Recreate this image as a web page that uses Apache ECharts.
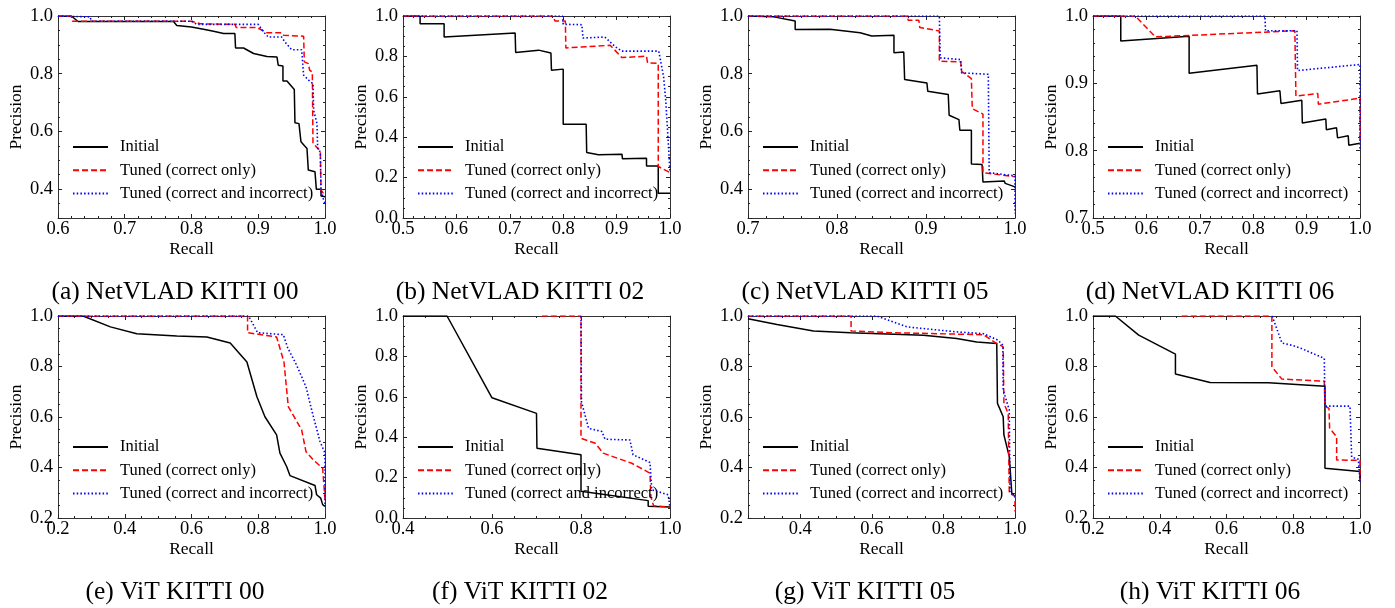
<!DOCTYPE html>
<html>
<head>
<meta charset="utf-8">
<script src="https://cdn.jsdelivr.net/npm/echarts@6/dist/echarts.min.js"></script>
<style>html,body{margin:0;padding:0;background:#fff}#chart{width:1395px;height:608px}</style>
</head>
<body>
<div id="chart"></div>
<script>
// curves: [recall, precision]
const a_initial = [[0.6,1.0],[0.62,1.0],[0.63,0.981],[0.773,0.981],[0.778,0.967],[0.8,0.962],[0.818,0.954],[0.833,0.947],[0.848,0.939],[0.865,0.939],[0.866,0.889],[0.878,0.889],[0.893,0.870],[0.913,0.860],[0.928,0.858],[0.930,0.829],[0.937,0.827],[0.937,0.775],[0.943,0.775],[0.954,0.745],[0.955,0.630],[0.961,0.627],[0.964,0.564],[0.973,0.541],[0.975,0.466],[0.985,0.460],[0.987,0.400],[0.994,0.400],[0.994,0.376],[1.0,0.374]];
const a_tunedCorrect = [[0.6,1.0],[0.62,1.0],[0.622,0.982],[0.8,0.982],[0.813,0.973],[0.865,0.971],[0.867,0.960],[0.898,0.960],[0.913,0.942],[0.935,0.942],[0.938,0.933],[0.968,0.930],[0.969,0.841],[0.975,0.835],[0.977,0.812],[0.981,0.806],[0.982,0.558],[0.993,0.533],[0.994,0.397],[0.997,0.387],[1.0,0.385]];
const a_tunedBoth = [[0.6,1.0],[0.648,0.997],[0.65,0.982],[0.8,0.982],[0.808,0.971],[0.9,0.971],[0.908,0.945],[0.915,0.927],[0.935,0.927],[0.94,0.91],[0.95,0.883],[0.965,0.883],[0.968,0.795],[0.978,0.772],[0.982,0.766],[0.983,0.673],[0.988,0.627],[0.989,0.541],[0.993,0.529],[0.994,0.397],[0.998,0.362],[1.0,0.35]];

const b_initial = [[0.5,1.0],[0.532,1.0],[0.532,0.962],[0.577,0.962],[0.577,0.896],[0.71,0.916],[0.711,0.819],[0.754,0.831],[0.777,0.817],[0.778,0.732],[0.8,0.737],[0.8,0.464],[0.843,0.464],[0.844,0.324],[0.866,0.313],[0.91,0.316],[0.911,0.293],[0.956,0.296],[0.956,0.258],[0.978,0.258],[0.978,0.123],[1.0,0.123]];
const b_tunedCorrect = [[0.5,1.0],[0.78,1.0],[0.785,0.975],[0.804,0.975],[0.805,0.842],[0.888,0.855],[0.91,0.794],[0.956,0.801],[0.958,0.768],[0.978,0.765],[0.978,0.255],[1.0,0.225]];
const b_tunedBoth = [[0.5,1.0],[0.799,1.0],[0.8,0.959],[0.835,0.957],[0.837,0.891],[0.878,0.896],[0.898,0.847],[0.91,0.826],[0.979,0.826],[0.988,0.699],[0.992,0.584],[1.0,0.23]];

const c_initial = [[0.7,1.0],[0.729,0.997],[0.753,0.983],[0.753,0.953],[0.792,0.954],[0.826,0.942],[0.839,0.931],[0.864,0.933],[0.864,0.873],[0.875,0.875],[0.876,0.780],[0.901,0.768],[0.902,0.739],[0.925,0.728],[0.926,0.656],[0.937,0.641],[0.938,0.604],[0.951,0.604],[0.951,0.487],[0.963,0.485],[0.964,0.425],[0.988,0.428],[0.989,0.42],[1.0,0.408]];
const c_tunedCorrect = [[0.7,1.0],[0.879,1.0],[0.88,0.985],[0.892,0.985],[0.893,0.96],[0.915,0.948],[0.915,0.843],[0.939,0.841],[0.94,0.808],[0.951,0.783],[0.952,0.679],[0.964,0.66],[0.964,0.457],[1.0,0.443]];
const c_tunedBoth = [[0.7,1.0],[0.915,1.0],[0.916,0.855],[0.939,0.849],[0.94,0.803],[0.97,0.798],[0.971,0.457],[1.0,0.446],[1.0,0.316]];

const d_initial = [[0.5,1.0],[0.552,1.0],[0.552,0.963],[0.68,0.970],[0.68,0.915],[0.807,0.927],[0.808,0.884],[0.85,0.889],[0.852,0.870],[0.891,0.875],[0.892,0.841],[0.936,0.847],[0.937,0.831],[0.956,0.834],[0.958,0.819],[0.978,0.822],[0.979,0.808],[1.0,0.811]];
const d_tunedCorrect = [[0.5,1.0],[0.579,1.0],[0.617,0.969],[0.878,0.978],[0.88,0.881],[0.921,0.885],[0.922,0.869],[1.0,0.878],[1.0,0.81]];
const d_tunedBoth = [[0.5,1.0],[0.822,1.0],[0.823,0.978],[0.882,0.978],[0.883,0.919],[1.0,0.928],[1.0,0.80]];

const e_initial = [[0.2,1.0],[0.275,1.0],[0.357,0.957],[0.436,0.93],[0.556,0.921],[0.646,0.917],[0.716,0.893],[0.766,0.818],[0.796,0.68],[0.82,0.601],[0.855,0.529],[0.865,0.457],[0.885,0.404],[0.895,0.368],[0.97,0.329],[0.975,0.292],[0.987,0.279],[0.993,0.253],[1.0,0.246]];
const e_tunedCorrect = [[0.2,1.0],[0.768,1.0],[0.768,0.934],[0.855,0.917],[0.877,0.818],[0.89,0.641],[0.93,0.549],[0.943,0.463],[0.965,0.43],[0.993,0.397],[1.0,0.272]];
const e_tunedBoth = [[0.2,1.0],[0.771,1.0],[0.798,0.934],[0.875,0.926],[0.888,0.875],[0.915,0.805],[0.943,0.72],[0.96,0.628],[0.985,0.503],[1.0,0.457],[1.0,0.246]];

const f_initial = [[0.4,1.0],[0.499,1.0],[0.6,0.595],[0.7,0.518],[0.701,0.345],[0.8,0.313],[0.8,0.132],[0.951,0.086],[0.951,0.058],[1.0,0.054]];
const f_tunedCorrect = [[0.712,1.0],[0.8,1.0],[0.8,0.395],[0.832,0.37],[0.85,0.321],[0.914,0.271],[0.955,0.222],[0.957,0.107],[0.963,0.061],[1.0,0.054]];
const f_tunedBoth = [[0.8,1.0],[0.801,0.576],[0.817,0.444],[0.847,0.428],[0.854,0.39],[0.91,0.386],[0.917,0.313],[0.955,0.275],[0.959,0.14],[0.996,0.115],[1.0,0.049]];

const g_initial = [[0.254,0.989],[0.335,0.966],[0.437,0.941],[0.54,0.934],[0.744,0.924],[0.837,0.911],[0.893,0.897],[0.949,0.891],[0.951,0.654],[0.967,0.601],[0.969,0.529],[0.984,0.443],[0.986,0.404],[0.991,0.299],[1.0,0.286]];
const g_tunedCorrect = [[0.254,1.0],[0.542,1.0],[0.542,0.941],[0.651,0.934],[0.912,0.926],[0.947,0.893],[0.967,0.878],[0.969,0.654],[0.981,0.614],[0.984,0.299],[1.0,0.286],[1.0,0.226]];
const g_tunedBoth = [[0.254,1.0],[0.614,1.0],[0.698,0.957],[0.837,0.937],[0.912,0.93],[0.953,0.904],[0.966,0.884],[0.967,0.707],[0.984,0.628],[0.986,0.299],[1.0,0.286]];

const h_initial = [[0.2,1.0],[0.267,1.0],[0.337,0.924],[0.447,0.849],[0.447,0.77],[0.551,0.737],[0.726,0.736],[0.895,0.722],[0.895,0.397],[1.0,0.384],[1.0,0.345]];
const h_tunedCorrect = [[0.466,1.0],[0.736,1.0],[0.736,0.799],[0.766,0.75],[0.893,0.742],[0.895,0.643],[0.907,0.634],[0.909,0.555],[0.93,0.522],[0.93,0.43],[1.0,0.428],[1.0,0.345]];
const h_tunedBoth = [[0.737,1.0],[0.766,0.893],[0.796,0.884],[0.825,0.871],[0.893,0.832],[0.895,0.643],[0.97,0.643],[0.975,0.441],[0.995,0.433],[1.0,0.345]];

const seriesNames = ['Initial', 'Tuned (correct only)', 'Tuned (correct and incorrect)'];
const captions = ['(a) NetVLAD KITTI 00', '(b) NetVLAD KITTI 02', '(c) NetVLAD KITTI 05', '(d) NetVLAD KITTI 06',
                  '(e) ViT KITTI 00', '(f) ViT KITTI 02', '(g) ViT KITTI 05', '(h) ViT KITTI 06'];
const xMins = [0.6, 0.5, 0.7, 0.5, 0.2, 0.4, 0.254, 0.2];
const xSteps = [0.1, 0.1, 0.1, 0.1, 0.2, 0.2, null, 0.2];
const yMins = [0.3, 0.0, 0.3, 0.7, 0.2, 0.0, 0.2, 0.2];
const ySteps = [null, 0.2, null, 0.1, 0.2, 0.2, 0.2, 0.2];

const panels = [
  [a_initial, a_tunedCorrect, a_tunedBoth],
  [b_initial, b_tunedCorrect, b_tunedBoth],
  [c_initial, c_tunedCorrect, c_tunedBoth],
  [d_initial, d_tunedCorrect, d_tunedBoth],
  [e_initial, e_tunedCorrect, e_tunedBoth],
  [f_initial, f_tunedCorrect, f_tunedBoth],
  [g_initial, g_tunedCorrect, g_tunedBoth],
  [h_initial, h_tunedCorrect, h_tunedBoth]
];

const font = 'Liberation Serif';
const lineStyles = [
  { color: '#000000', width: 1.5, type: 'solid' },
  { color: '#ff0000', width: 1.5, type: [6, 3] },
  { color: '#0000ff', width: 1.6, type: [1.5, 2.2] }
];

function makeAxis(gridIndex, position, min, step, main, name) {
  const ax = {
    type: 'value', gridIndex: gridIndex, position: position,
    min: min, max: 1.0, splitNumber: 4,
    axisLine: { show: true, onZero: false, lineStyle: { color: '#333', width: 1 } },
    axisTick: { show: true, inside: true, length: 4, lineStyle: { color: '#222', width: 1 } },
    minorTick: { show: true, splitNumber: (step === 0.1 ? 5 : 4), length: 2, lineStyle: { color: '#222', width: 1 } },
    splitLine: { show: false },
    minorSplitLine: { show: false },
    axisLabel: {
      show: main,
      showMinLabel: step != null,
      showMaxLabel: true,
      formatter: function (v) { return v.toFixed(1); },
      fontFamily: font, fontSize: 18.5, color: '#000',
      margin: (position === 'bottom' ? 2 : 5)
    }
  };
  if (step != null) ax.interval = step;
  if (main) {
    ax.name = name;
    ax.nameLocation = 'middle';
    ax.nameGap = (position === 'bottom' ? 22 : 33);
    ax.nameTextStyle = { fontFamily: font, fontSize: 17.5, color: '#000' };
  }
  return ax;
}

const grid = [], xAxis = [], yAxis = [], series = [], legend = [], graphic = [];

panels.forEach(function (curves, i) {
  const col = i % 4, row = Math.floor(i / 4);
  const left = 58 + col * 345, top = 16 + row * 300;
  grid.push({ left: left, top: top, width: 267, height: 202 });

  xAxis.push(makeAxis(i, 'bottom', xMins[i], xSteps[i], true, 'Recall'));
  xAxis.push(makeAxis(i, 'top', xMins[i], xSteps[i], false));
  yAxis.push(makeAxis(i, 'left', yMins[i], ySteps[i], true, 'Precision'));
  yAxis.push(makeAxis(i, 'right', yMins[i], ySteps[i], false));

  curves.forEach(function (data, k) {
    series.push({
      type: 'line', name: seriesNames[k], data: data,
      xAxisIndex: 2 * i, yAxisIndex: 2 * i,
      symbol: 'none', color: lineStyles[k].color,
      lineStyle: lineStyles[k], z: 2 + k, silent: true
    });
  });

  legend.push({
    data: seriesNames, orient: 'vertical', selectedMode: false,
    left: left + 14, top: top + 122, padding: 0, itemGap: 5.3,
    itemWidth: 35, itemHeight: 14,
    itemStyle: { opacity: 0 },
    textStyle: { fontFamily: font, fontSize: 16.5, color: '#000', lineHeight: 18, padding: [0, 0, 0, 7] }
  });

  graphic.push({
    type: 'text',
    style: {
      text: captions[i], x: 175 + col * 345, y: 292 + row * 300,
      fill: '#000', font: '25.5px "Liberation Serif"',
      textAlign: 'center', textVerticalAlign: 'middle', align: 'center', verticalAlign: 'middle'
    }
  });
});

const chart = echarts.init(document.getElementById('chart'), null, { renderer: 'canvas' });
chart.setOption({
  animation: false,
  backgroundColor: '#fff',
  grid: grid, xAxis: xAxis, yAxis: yAxis,
  series: series, legend: legend, graphic: graphic
});
</script>
</body>
</html>
